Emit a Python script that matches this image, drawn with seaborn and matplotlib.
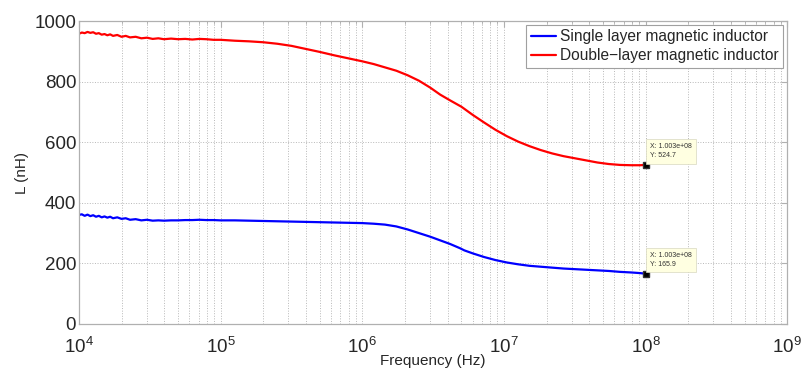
import numpy as np
import pandas as pd
import seaborn as sns
import matplotlib
matplotlib.use("Agg")
from matplotlib import pyplot as plt
from matplotlib.ticker import LogLocator, NullFormatter, MultipleLocator

# log10 of frequency (Hz) and inductance (nH)
single_logf = [4.00, 4.02, 4.04, 4.06, 4.08, 4.10, 4.12, 4.14, 4.16, 4.18,
               4.20, 4.22, 4.24, 4.27, 4.30, 4.33, 4.36, 4.40, 4.44, 4.48,
               4.52, 4.56, 4.60, 4.65, 4.70, 4.75, 4.80, 4.85, 4.90, 4.95,
               5.00, 5.10, 5.20, 5.30, 5.40, 5.50, 5.60, 5.70, 5.80, 5.90,
               6.00, 6.08, 6.16, 6.24, 6.32, 6.40, 6.48, 6.55, 6.62, 6.69,
               6.72, 6.78, 6.86, 6.94, 7.02, 7.10, 7.18, 7.26, 7.34, 7.42,
               7.50, 7.58, 7.66, 7.74, 7.82, 7.90, 7.96, 8.00, 8.02]
single_L = [360, 362, 357, 361, 356, 359, 354, 357, 352, 355,
            351, 354, 349, 352, 347, 349, 344, 346, 342, 344,
            341, 342, 341, 342, 342, 343, 343, 344, 343, 343,
            342, 342, 341, 340, 339, 338, 337, 336, 335, 334,
            333, 331, 328, 322, 312, 300, 288, 276, 264, 250,
            243, 233, 221, 211, 203, 197, 192, 189, 186, 183,
            181, 179, 177, 175, 172, 170, 168, 166, 166]

double_logf = [4.00, 4.02, 4.04, 4.06, 4.08, 4.10, 4.12, 4.14, 4.16, 4.18,
               4.20, 4.22, 4.24, 4.27, 4.30, 4.33, 4.36, 4.40, 4.44, 4.48,
               4.52, 4.56, 4.60, 4.65, 4.70, 4.75, 4.80, 4.85, 4.90, 4.95,
               5.00, 5.10, 5.20, 5.30, 5.40, 5.50, 5.60, 5.70, 5.80, 5.90,
               6.00, 6.08, 6.16, 6.24, 6.32, 6.40, 6.48, 6.55, 6.62, 6.70,
               6.78, 6.86, 6.94, 7.02, 7.10, 7.18, 7.26, 7.34, 7.42, 7.50,
               7.58, 7.66, 7.74, 7.82, 7.90, 7.96, 8.00, 8.02]
double_L = [958, 962, 960, 964, 961, 963, 958, 960, 955, 957,
            953, 956, 951, 954, 948, 951, 946, 948, 943, 945,
            941, 943, 940, 942, 940, 941, 939, 941, 940, 938,
            938, 935, 933, 930, 925, 918, 908, 898, 887, 877,
            867, 858, 847, 836, 821, 803, 780, 757, 738, 717,
            690, 665, 641, 620, 602, 587, 574, 563, 554, 547,
            540, 533, 528, 525, 524, 524, 525, 526]

series_names = ["Single layer magnetic inductor", "Double\u2212layer magnetic inductor"]
series_colors = ["#0000ff", "#ff0000"]

# data tips at 1.003e8 Hz
tip_f = 1.003e8
tip_L = [165.9, 524.7]

df = pd.concat([
    pd.DataFrame({"f": 10 ** np.array(single_logf), "L": single_L, "s": series_names[0]}),
    pd.DataFrame({"f": 10 ** np.array(double_logf), "L": double_L, "s": series_names[1]}),
])

sns.set_style("white")
plt.rcParams["font.family"] = ["Liberation Sans", "DejaVu Sans"]

fig = plt.figure(figsize=(8.03, 3.69), dpi=100)
ax = fig.add_axes([0.0984, 0.122, 0.882, 0.821])

sns.lineplot(data=df, x="f", y="L", hue="s", hue_order=series_names,
             palette=series_colors, estimator=None, sort=False,
             linewidth=1.6, ax=ax)

ax.set_xscale("log")
ax.set_xlim(1e4, 1e9)
ax.set_ylim(0, 1000)
ax.yaxis.set_major_locator(MultipleLocator(200))
ax.xaxis.set_major_locator(LogLocator(base=10, numticks=10))
ax.xaxis.set_minor_locator(LogLocator(base=10, subs=np.arange(2, 10), numticks=50))
ax.xaxis.set_minor_formatter(NullFormatter())

grid_kw = dict(color="#b8b8b8", linestyle=":", linewidth=0.7)
ax.grid(True, which="major", axis="both", **grid_kw)
ax.grid(True, which="minor", axis="x", **grid_kw)

for sp in ax.spines.values():
    sp.set_visible(True)
    sp.set_color("#b0b0b0")
    sp.set_linewidth(0.9)

ax.tick_params(which="both", direction="in", top=True, right=True,
               colors="#b0b0b0", labelcolor="#262626", labelsize=13.5, pad=2)
ax.tick_params(which="major", length=4)
ax.tick_params(which="minor", length=2.5)
ax.tick_params(axis="x", pad=9)

ax.set_xlabel("Frequency (Hz)", fontsize=11, color="#262626", labelpad=-2)
ax.set_ylabel("L (nH)", fontsize=11, color="#262626", labelpad=4)

# data tip markers
for L, c in zip(tip_L, series_colors):
    ax.plot([tip_f], [L], marker="s", markersize=5, color="black",
            markeredgecolor="#333333", linestyle="none", label="_nolegend_")
    ax.annotate(f"X: {tip_f:.3e}\nY: {L}", xy=(tip_f, L), xytext=(3, 4),
                textcoords="offset points", ha="left", va="bottom",
                fontsize=5, color="#333333", linespacing=1.4,
                bbox=dict(boxstyle="square,pad=0.6", fc="#ffffe1",
                          ec="#d8d8c0", lw=0.5))

handles, labels = ax.get_legend_handles_labels()
leg = ax.legend(handles[:2], series_names, loc="upper right",
                bbox_to_anchor=(0.994, 0.988), borderaxespad=0,
                fontsize=11.2, frameon=True, fancybox=False,
                edgecolor="#a0a0a0", framealpha=1, handlelength=1.6,
                handletextpad=0.25, borderpad=0.3, labelspacing=0.25)
leg.get_frame().set_linewidth(0.8)

fig.savefig("out.png", dpi=100)
